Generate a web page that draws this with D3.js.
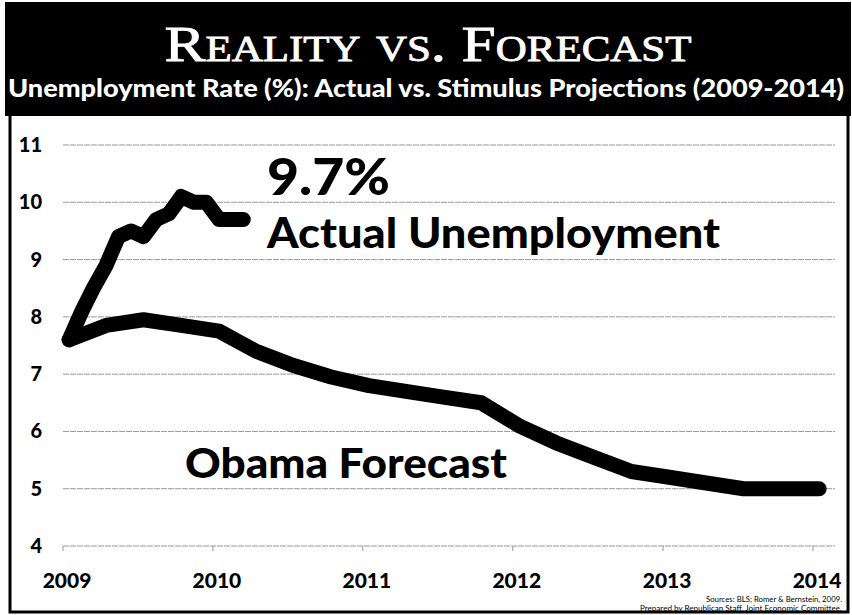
<!DOCTYPE html>
<html>
<head>
    <meta charset="UTF-8" />
    <title>Reality vs. Forecast</title>
    <script src="https://d3js.org/d3.v7.min.js"></script>
    <style>
	body { margin: 0; background: white; }
	svg { display: block; }
	.lbl { font-family: Lato, "DejaVu Sans", sans-serif; font-weight: 900; }
    </style>
</head>
<body>
<div id="chart"></div>
<script type="text/javascript">

	// data
	var yearTicks = [2009, 2010, 2011, 2012, 2013, 2014];
	var rateTicks = [4, 5, 6, 7, 8, 9, 10, 11];

	var actualMonths = ["2009-01", "2009-02", "2009-03", "2009-04", "2009-05", "2009-06", "2009-07", "2009-08",
		"2009-09", "2009-10", "2009-11", "2009-12", "2010-01", "2010-02", "2010-03"];
	var actualRate = [7.6, 8.1, 8.5, 8.9, 9.4, 9.5, 9.4, 9.7, 9.8, 10.1, 10.0, 10.0, 9.7, 9.7, 9.7];

	var forecastQuarters = ["2009-01", "2009-04", "2009-07", "2009-10", "2010-01", "2010-04", "2010-07", "2010-10",
		"2011-01", "2011-04", "2011-07", "2011-10", "2012-01", "2012-04", "2012-07", "2012-10",
		"2013-01", "2013-04", "2013-07", "2013-10", "2014-01"];
	var forecastRate = [7.6, 7.85, 7.95, 7.85, 7.75, 7.4, 7.15, 6.95, 6.8, 6.7, 6.6, 6.5,
		6.1, 5.8, 5.55, 5.3, 5.2, 5.1, 5.0, 5.0, 5.0];

	var W = 852, H = 615;

	var svg = d3.select("div#chart")
		.append("svg")
			.attr("width", W)
			.attr("height", H);

	// header block and chart frame
	svg.append("rect")
		.attr("x", 5).attr("y", 2)
		.attr("width", 846).attr("height", 114)
		.attr("fill", "black");
	svg.append("rect")
		.attr("x", 10).attr("y", 114)
		.attr("width", 838).attr("height", 498)
		.attr("fill", "none")
		.attr("stroke", "black")
		.attr("stroke-width", 3);

	svg.append("text")
		.attr("x", 428).attr("y", 61)
		.attr("text-anchor", "middle")
		.attr("fill", "white")
		.attr("stroke", "white")
		.attr("stroke-width", 0.8)
		.style("font-family", "'Liberation Serif', 'DejaVu Serif', serif")
		.style("font-size", "50px")
		.style("font-variant", "small-caps")
		.attr("textLength", 527)
		.attr("lengthAdjust", "spacingAndGlyphs")
		.text("Reality vs. Forecast");

	svg.append("text")
		.attr("class", "lbl")
		.attr("x", 426).attr("y", 97)
		.attr("text-anchor", "middle")
		.attr("fill", "white")
		.style("font-size", "25px")
		.attr("textLength", 836)
		.attr("lengthAdjust", "spacingAndGlyphs")
		.text("Unemployment Rate (%): Actual vs. Stimulus Projections (2009-2014)");

	// scales
	var x = d3.scaleTime()
		.domain([new Date(2009, 0, 1), new Date(2014, 0, 1)])
		.range([63, 813]);
	var y = d3.scaleLinear()
		.domain([4, 11])
		.range([546, 145]);

	var parseMonth = d3.timeParse("%Y-%m");
	// points sit in the middle of their month
	function midMonth(s) {
		var d = parseMonth(s);
		return d3.timeDay.offset(d, 15);
	}

	// gridlines
	svg.append("g")
		.selectAll("line")
		.data(rateTicks)
		.enter()
		.append("line")
			.attr("x1", 63)
			.attr("x2", 835)
			.attr("y1", function(d) { return y(d); })
			.attr("y2", function(d) { return y(d); })
			.attr("stroke", "#999")
			.attr("stroke-width", 1)
			.attr("stroke-dasharray", "6,1");

	// y labels
	svg.append("g")
		.selectAll("text")
		.data(rateTicks)
		.enter()
		.append("text")
			.attr("class", "lbl")
			.attr("x", 42)
			.attr("y", function(d) { return y(d) + 7; })
			.attr("text-anchor", "end")
			.style("font-size", "20px")
			.text(function(d) { return d; });

	// x axis ticks and labels
	var xAxis = svg.append("g");
	xAxis.selectAll("line")
		.data(yearTicks)
		.enter()
		.append("line")
			.attr("x1", function(d) { return x(new Date(d, 0, 1)); })
			.attr("x2", function(d) { return x(new Date(d, 0, 1)); })
			.attr("y1", 546)
			.attr("y2", 551)
			.attr("stroke", "#999");
	xAxis.selectAll("text")
		.data(yearTicks)
		.enter()
		.append("text")
			.attr("class", "lbl")
			.attr("x", function(d) { return x(new Date(d, 0, 1)) + 4; })
			.attr("y", 588)
			.attr("text-anchor", "middle")
			.style("font-size", "21px")
			.text(function(d) { return d; });

	// lines
	var line = d3.line()
		.x(function(d) { return x(midMonth(d[0])); })
		.y(function(d) { return y(d[1]); });

	svg.append("path")
		.datum(d3.zip(forecastQuarters, forecastRate))
		.attr("d", line)
		.attr("fill", "none")
		.attr("stroke", "black")
		.attr("stroke-width", 15)
		.attr("stroke-linejoin", "round")
		.attr("stroke-linecap", "round");

	svg.append("path")
		.datum(d3.zip(actualMonths, actualRate))
		.attr("d", line)
		.attr("fill", "none")
		.attr("stroke", "black")
		.attr("stroke-width", 15)
		.attr("stroke-linejoin", "round")
		.attr("stroke-linecap", "round");

	// annotations
	svg.append("text")
		.attr("class", "lbl")
		.attr("x", 267).attr("y", 195)
		.style("font-size", "51px")
		.attr("textLength", 123)
		.attr("lengthAdjust", "spacingAndGlyphs")
		.text("9.7%");
	svg.append("text")
		.attr("class", "lbl")
		.attr("x", 267).attr("y", 248)
		.style("font-size", "42px")
		.attr("textLength", 453)
		.attr("lengthAdjust", "spacingAndGlyphs")
		.text("Actual Unemployment");
	svg.append("text")
		.attr("class", "lbl")
		.attr("x", 185).attr("y", 478)
		.style("font-size", "41px")
		.attr("textLength", 322)
		.attr("lengthAdjust", "spacingAndGlyphs")
		.text("Obama Forecast");

	// source note
	svg.append("text")
		.attr("x", 842).attr("y", 602)
		.attr("text-anchor", "end")
		.style("font-family", "Lato, sans-serif")
		.style("font-size", "7px")
		.attr("textLength", 136)
		.attr("lengthAdjust", "spacingAndGlyphs")
		.text("Sources: BLS; Romer & Bernstein, 2009.");
	svg.append("text")
		.attr("x", 842).attr("y", 611)
		.attr("text-anchor", "end")
		.style("font-family", "Lato, sans-serif")
		.style("font-size", "7px")
		.attr("textLength", 202)
		.attr("lengthAdjust", "spacingAndGlyphs")
		.text("Prepared by Republican Staff, Joint Economic Committee.");

</script>
</body>
</html>
